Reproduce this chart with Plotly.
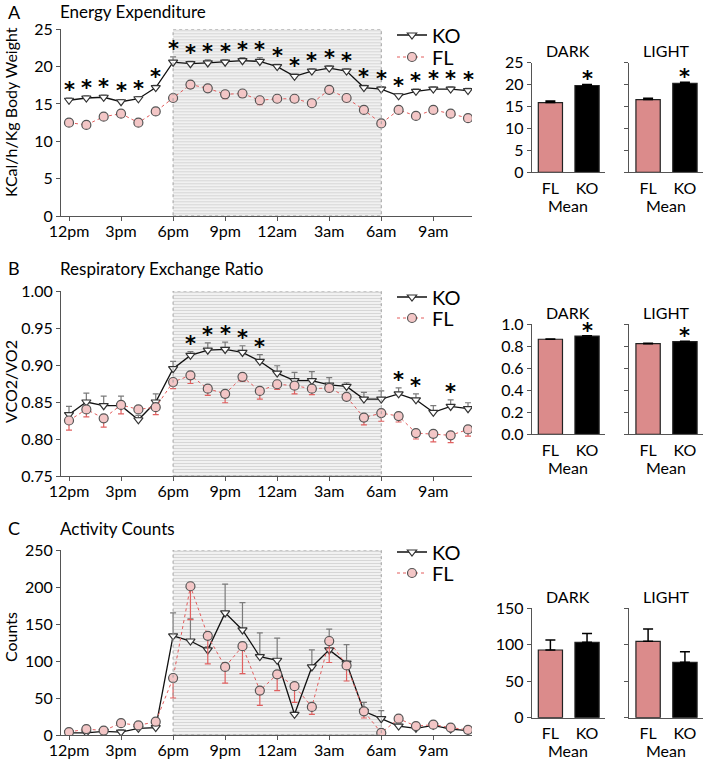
import plotly.graph_objects as go

W, H = 705, 762
FONT = "Lato"
STAR_FONT = "DejaVu Sans"

# ---------------- data ----------------
hours = list(range(24))
tick_vals = [0, 3, 6, 9, 12, 15, 18, 21]
tick_text = ["12pm", "3pm", "6pm", "9pm", "12am", "3am", "6am", "9am"]
DARK_START, DARK_END = 6, 18

# Energy expenditure (KCal/h/Kg)
ee_ko = [15.5, 15.8, 15.9, 15.3, 15.7, 17.2, 20.6, 20.4, 20.5, 20.6, 20.8, 20.7,
         20.0, 18.7, 19.4, 19.8, 19.4, 17.2, 17.0, 16.1, 16.7, 17.0, 17.0, 16.8]
ee_ko_err = [0.3, 0.3, 0.3, 0.3, 0.3, 0.3, 0.7, 0.3, 0.4, 0.3, 0.4, 0.5,
             0.3, 0.3, 0.3, 0.3, 0.3, 0.3, 0.3, 0.3, 0.3, 0.3, 0.3, 0.3]
ee_fl = [12.5, 12.2, 13.3, 13.7, 12.5, 14.0, 15.8, 17.6, 17.1, 16.3, 16.4, 15.5,
         15.7, 15.7, 15.1, 16.9, 15.8, 14.2, 12.4, 14.2, 13.4, 14.2, 13.7, 13.1]
ee_fl_err = [0.3, 0.3, 0.3, 0.4, 0.3, 0.3, 0.3, 0.5, 0.4, 0.6, 0.5, 0.6,
             0.4, 0.5, 0.4, 0.4, 0.5, 0.3, 0.3, 0.3, 0.3, 0.3, 0.3, 0.3]
ee_sig = [1, 1, 1, 1, 1, 1, 1, 1, 1, 1, 1, 1, 1, 1, 1, 1, 1, 1, 1, 1, 1, 1, 1, 1]

# Respiratory exchange ratio
rer_ko = [0.833, 0.850, 0.845, 0.845, 0.826, 0.850, 0.895, 0.913, 0.920, 0.921, 0.917, 0.905,
          0.889, 0.879, 0.879, 0.873, 0.871, 0.854, 0.854, 0.861, 0.853, 0.836, 0.844, 0.841]
rer_ko_err = [0.011, 0.012, 0.013, 0.013, 0.006, 0.011, 0.010, 0.005, 0.010, 0.010, 0.009, 0.009,
              0.010, 0.011, 0.012, 0.010, 0.005, 0.009, 0.011, 0.008, 0.008, 0.009, 0.009, 0.008]
rer_fl = [0.825, 0.840, 0.828, 0.846, 0.840, 0.843, 0.877, 0.886, 0.868, 0.861, 0.884, 0.865,
          0.874, 0.872, 0.868, 0.869, 0.857, 0.829, 0.835, 0.831, 0.808, 0.807, 0.805, 0.813]
rer_fl_err = [0.013, 0.010, 0.012, 0.012, 0.004, 0.010, 0.009, 0.011, 0.009, 0.012, 0.006, 0.011,
              0.007, 0.011, 0.008, 0.005, 0.004, 0.010, 0.011, 0.008, 0.008, 0.011, 0.010, 0.009]
rer_sig = [0, 0, 0, 0, 0, 0, 0, 1, 1, 1, 1, 1, 0, 0, 0, 0, 0, 0, 0, 1, 1, 0, 1, 0]

# Activity counts
act_ko = [3, 3, 5, 4, 9, 10, 134, 127, 115, 165, 142, 106,
          101, 28, 92, 115, 97, 32, 22, 12, 9, 13, 8, 6]
act_ko_err = [3, 3, 3, 3, 3, 3, 31, 30, 4, 39, 37, 32,
              30, 3, 23, 28, 25, 12, 11, 3, 3, 3, 3, 3]
act_fl = [4, 8, 6, 16, 13, 18, 77, 201, 134, 92, 120, 60,
          82, 66, 38, 127, 94, 32, 3, 22, 12, 14, 10, 7]
act_fl_err = [2, 3, 3, 3, 4, 5, 27, 45, 38, 22, 37, 20,
              22, 22, 10, 29, 21, 9, 2, 4, 3, 4, 3, 3]
act_sig = [0] * 24

# Mean bars (DARK / LIGHT)
bar_groups = ["FL", "KO"]
ee_dark = [15.9, 19.8]
ee_dark_err = [0.35, 0.25]
ee_light = [16.6, 20.3]
ee_light_err = [0.3, 0.25]
ee_dark_sig = [0, 1]
ee_light_sig = [0, 1]

rer_dark = [0.864, 0.893]
rer_dark_err = [0.003, 0.003]
rer_light = [0.824, 0.842]
rer_light_err = [0.003, 0.003]
rer_dark_sig = [0, 1]
rer_light_sig = [0, 1]

act_dark = [92.8, 103.4]
act_dark_err = [13.7, 12.0]
act_light = [104.7, 75.9]
act_light_err = [17.0, 14.6]
act_dark_sig = [0, 0]
act_light_sig = [0, 0]

# ---------------- style ----------------
KO_LINE = "#111111"
FL_LINE = "#e35d5d"
KO_ERR = "#7a7a7a"
FL_ERR = "#e06060"
FL_BAR = "#db8b8b"
AXIS = "#555555"


def px_x(x):
    return x / W


def px_y(y):
    return 1 - y / H


rows = [
    dict(letter="A", title="Energy Expenditure", ytitle="KCal/h/Kg Body Weight",
         ko=ee_ko, ko_err=ee_ko_err, fl=ee_fl, fl_err=ee_fl_err, sig=ee_sig,
         yrange=[0, 25], dtick=5, tickformat=None, top=29.3, bottom=216,
         title_y=12, ytitle_y=112, legend_y=(35, 57),
         bars=[(ee_dark, ee_dark_err, ee_dark_sig, "DARK"), (ee_light, ee_light_err, ee_light_sig, "LIGHT")],
         bar_range=[0, 25], bar_dtick=5, bar_fmt=None, bar_top=62.7, bar_bottom=172.3),
    dict(letter="B", title="Respiratory Exchange Ratio", ytitle="VCO2/VO2",
         ko=rer_ko, ko_err=rer_ko_err, fl=rer_fl, fl_err=rer_fl_err, sig=rer_sig,
         yrange=[0.75, 1.0], dtick=0.05, tickformat=".2f", top=291, bottom=476,
         title_y=268, ytitle_y=382, legend_y=(297, 318),
         bars=[(rer_dark, rer_dark_err, rer_dark_sig, "DARK"), (rer_light, rer_light_err, rer_light_sig, "LIGHT")],
         bar_range=[0, 1.0], bar_dtick=0.2, bar_fmt=".1f", bar_top=324.3, bar_bottom=434.3),
    dict(letter="C", title="Activity Counts", ytitle="Counts",
         ko=act_ko, ko_err=act_ko_err, fl=act_fl, fl_err=act_fl_err, sig=act_sig,
         yrange=[0, 250], dtick=50, tickformat=None, top=550, bottom=735,
         title_y=528, ytitle_y=637, legend_y=(552, 573),
         bars=[(act_dark, act_dark_err, act_dark_sig, "DARK"), (act_light, act_light_err, act_light_sig, "LIGHT")],
         bar_range=[0, 150], bar_dtick=50, bar_fmt=None, bar_top=608.3, bar_bottom=717.7),
]

LINE_X = [61, 472]
LINE_XRANGE = [-0.461, 23.23]
BAR_X = [[531.7, 605], [629.3, 703]]
BAR_XRANGE = [-0.51, 1.49]

fig = go.Figure()
layout = dict(width=W, height=H, margin=dict(l=0, r=0, t=0, b=0, autoexpand=False),
              paper_bgcolor="white", plot_bgcolor="rgba(0,0,0,0)",
              font=dict(family=FONT, size=16, color="black"),
              showlegend=True, barmode="overlay", hovermode=False)
annotations = []
shapes = []

ax_i = 0
for r_i, row in enumerate(rows):
    # ----- line subplot -----
    ax_i += 1
    xa = "x" if ax_i == 1 else f"x{ax_i}"
    ya = "y" if ax_i == 1 else f"y{ax_i}"
    xkey = "xaxis" if ax_i == 1 else f"xaxis{ax_i}"
    ykey = "yaxis" if ax_i == 1 else f"yaxis{ax_i}"
    leg_ko = "legend" if r_i == 0 else f"legend{2 * r_i + 1}"
    leg_fl = f"legend{2 * r_i + 2}"
    y0, y1 = row["yrange"]

    fig.add_trace(go.Bar(x=[(DARK_START + DARK_END) / 2], y=[y1 - y0], base=[y0],
                         width=[DARK_END - DARK_START], xaxis=xa, yaxis=ya,
                         marker=dict(color="#eeeeee", line=dict(width=0),
                                     pattern=dict(shape="-", fgcolor="#bcbcbc", bgcolor="#f1f1f1",
                                                  size=3, solidity=0.35)),
                         showlegend=False, hoverinfo="skip"))
    shapes.append(dict(type="rect", xref=xa, yref=ya, x0=DARK_START, x1=DARK_END, y0=y0, y1=y1,
                       line=dict(color="#a0a0a0", width=1, dash="dot"), layer="above"))

    fig.add_trace(go.Scatter(x=hours, y=row["ko"], mode="lines+markers", name="KO",
                             xaxis=xa, yaxis=ya, legend=leg_ko,
                             line=dict(color=KO_LINE, width=1.3),
                             marker=dict(symbol="triangle-down", size=8, color="white",
                                         line=dict(color="#333333", width=1.2)),
                             error_y=dict(type="data", symmetric=False, array=row["ko_err"],
                                          arrayminus=[0] * len(hours), color=KO_ERR,
                                          thickness=1.2, width=3)))
    fig.add_trace(go.Scatter(x=hours, y=row["fl"], mode="lines+markers", name="FL",
                             xaxis=xa, yaxis=ya, legend=leg_fl,
                             line=dict(color=FL_LINE, width=1, dash="dot"),
                             marker=dict(symbol="circle", size=9, color="#f3c6c6",
                                         line=dict(color="#555555", width=1.2)),
                             error_y=dict(type="data", symmetric=False, array=[0] * len(hours),
                                          arrayminus=row["fl_err"], color=FL_ERR,
                                          thickness=1.2, width=3)))
    for h, v, e, s in zip(hours, row["ko"], row["ko_err"], row["sig"]):
        if s:
            annotations.append(dict(x=h, y=v + e, xref=xa, yref=ya, text="<b>*</b>", showarrow=False,
                                    yanchor="bottom", yshift=-6,
                                    font=dict(family=STAR_FONT, size=21, color="#000000")))

    layout[xkey] = dict(domain=[px_x(LINE_X[0]), px_x(LINE_X[1])], range=LINE_XRANGE,
                        anchor=ya, showline=True, linecolor=AXIS, linewidth=1,
                        ticks="outside", ticklen=4, tickcolor=AXIS, ticklabelstandoff=-3,
                        tickvals=tick_vals, ticktext=tick_text, showgrid=False, zeroline=False,
                        tickfont=dict(size=16, family=FONT))
    layout[ykey] = dict(domain=[px_y(row["bottom"]), px_y(row["top"])], range=row["yrange"],
                        anchor=xa, showline=True, linecolor=AXIS, linewidth=1,
                        ticks="outside", ticklen=4, tickcolor=AXIS, dtick=row["dtick"],
                        tick0=y0, tickformat=row["tickformat"], showgrid=False, zeroline=False,
                        tickfont=dict(size=16, family=FONT))
    for leg, ly in ((leg_ko, row["legend_y"][0]), (leg_fl, row["legend_y"][1])):
        layout[leg] = dict(x=px_x(392), y=px_y(ly), xanchor="left", yanchor="middle",
                           font=dict(size=20, family=FONT), bgcolor="rgba(0,0,0,0)",
                           itemwidth=30, borderwidth=0)

    annotations.append(dict(x=px_x(14), y=px_y(row["title_y"]), xref="paper", yref="paper",
                            text=row["letter"], showarrow=False, xanchor="center", yanchor="middle",
                            font=dict(size=18, family=FONT)))
    annotations.append(dict(x=px_x(58), y=px_y(row["title_y"]), xref="paper", yref="paper",
                            text=row["title"], showarrow=False, xanchor="left", yanchor="middle",
                            font=dict(size=17, family=FONT)))
    annotations.append(dict(x=px_x(10), y=px_y(row["ytitle_y"]), xref="paper", yref="paper",
                            text=row["ytitle"], showarrow=False, xanchor="center", yanchor="middle",
                            textangle=-90, font=dict(size=16, family=FONT)))

    # ----- bar subplots -----
    for b_i, (vals, errs, sigs, label) in enumerate(row["bars"]):
        ax_i += 1
        xa = f"x{ax_i}"
        ya = f"y{ax_i}"
        fig.add_trace(go.Bar(x=[0, 1], y=vals, width=0.66, xaxis=xa, yaxis=ya,
                             marker=dict(color=[FL_BAR, "black"], line=dict(color="#222222", width=1.2)),
                             error_y=dict(type="data", symmetric=False, array=errs, arrayminus=[0, 0],
                                          color="black", thickness=1.5, width=5),
                             showlegend=False, hoverinfo="skip"))
        for xi, (v, e, s) in enumerate(zip(vals, errs, sigs)):
            if s:
                annotations.append(dict(x=xi, y=v + e, xref=xa, yref=ya, text="<b>*</b>", showarrow=False,
                                        yanchor="bottom", yshift=-9,
                                        font=dict(family=STAR_FONT, size=21, color="#000000")))
        dom_x = [px_x(BAR_X[b_i][0]), px_x(BAR_X[b_i][1])]
        layout[f"xaxis{ax_i}"] = dict(domain=dom_x, range=BAR_XRANGE, anchor=ya,
                                      showline=True, linecolor=AXIS, linewidth=1,
                                      ticks="outside", ticklen=3, tickcolor="rgba(0,0,0,0)",
                                      ticklabelstandoff=-2,
                                      tickvals=[0, 1], ticktext=bar_groups, showgrid=False,
                                      zeroline=False, tickfont=dict(size=16, family=FONT))
        layout[f"yaxis{ax_i}"] = dict(domain=[px_y(row["bar_bottom"]), px_y(row["bar_top"])],
                                      range=row["bar_range"], anchor=xa, showline=True,
                                      linecolor=AXIS, linewidth=1, ticks="outside", ticklen=4,
                                      tickcolor=AXIS, dtick=row["bar_dtick"], tick0=0,
                                      tickformat=row["bar_fmt"], showgrid=False, zeroline=False,
                                      showticklabels=(b_i == 0),
                                      tickfont=dict(size=16, family=FONT))
        cx = (dom_x[0] + dom_x[1]) / 2
        annotations.append(dict(x=cx, y=px_y(row["bar_top"] - 12),
                                xref="paper", yref="paper", text=label, showarrow=False,
                                xanchor="center", yanchor="middle", font=dict(size=16, family=FONT)))
        annotations.append(dict(x=cx, y=px_y(row["bar_bottom"] + 33),
                                xref="paper", yref="paper", text="Mean", showarrow=False,
                                xanchor="center", yanchor="middle", font=dict(size=16, family=FONT)))

layout["annotations"] = annotations
layout["shapes"] = shapes
fig.update_layout(**layout)
fig.write_html("out.html", config={"displayModeBar": False},
               post_script="document.body.style.margin='0';")
